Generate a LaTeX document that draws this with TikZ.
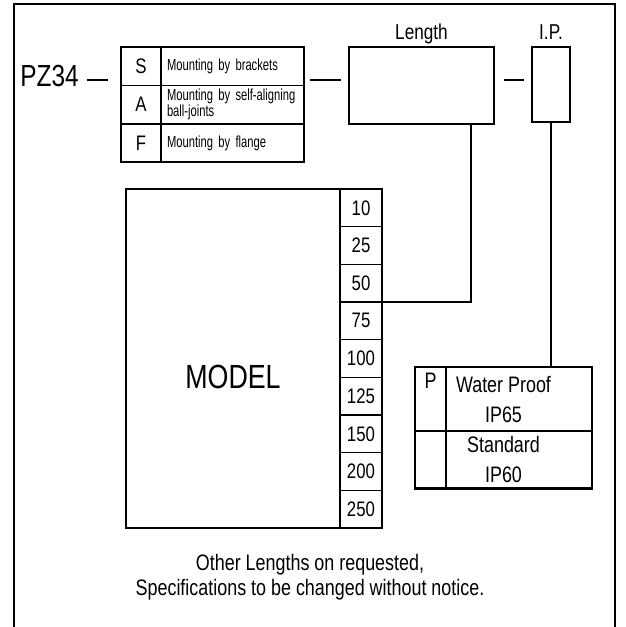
\documentclass[tikz,border=0pt]{standalone}
\usepackage{fontspec}
\setmainfont{Liberation Sans}[FakeStretch=0.8]
\newfontfamily\narrowfont{Liberation Sans}[FakeStretch=0.7]
\DeclareRobustCommand\descfont{\narrowfont\fontsize{16}{14}\selectfont
  \setlength\spaceskip{0.2em plus 0.1em}}
\usetikzlibrary{positioning}

\begin{document}
\begin{tikzpicture}[x=1pt, y=-1pt,
  fs/.style={font=\fontsize{#1}{#1}\selectfont},
  frame/.style={line width=2.8pt},
  box/.style={draw, line width=2.3pt, inner sep=0pt, outer sep=0pt},
  cell/.style={draw, line width=1.5pt, inner sep=0pt, outer sep=0pt, align=center},
  desc/.style={cell, font=\descfont, minimum width=142pt, minimum height=38.4pt,
    text width=131pt, inner xsep=6pt, align=left},
  letter/.style={cell, fs=21, minimum width=40pt, minimum height=38.4pt},
  numcell/.style={cell, fs=21, minimum width=42pt, minimum height=37.67pt},
  prow/.style={cell, font=\fontsize{22.4}{30}\selectfont, minimum width=177pt},
  lbl/.style={fs=21.5, inner sep=0pt},
  link/.style={line width=2.2pt}
]
\useasboundingbox (0,0) rectangle (625,627);
\draw[frame] (14,627) -- (14,4) -- (615,4) -- (615,627);
\coordinate (lvl) at (0,80);

\node[fs=30.5, inner sep=0pt, anchor=base] (pz) at (49.5,86) {PZ34};

\node[letter] (s) at (141,66.2) {S};
\node[letter, below=0pt of s] (a) {A};
\node[letter, below=0pt of a] (f) {F};
\node[desc, right=0pt of s] (ds) {Mounting by brackets};
\node[desc, right=0pt of a] (da) {Mounting by self-aligning\\ball-joints};
\node[desc, right=0pt of f] (df) {Mounting by flange};
\draw[box] (s.north west) rectangle (df.south east);

\node[box, minimum width=145pt, minimum height=77pt] (len) at (421.5,85.5) {};
\node[box, minimum width=38pt, minimum height=75pt] (ip) at (551,84.5) {};
\node[lbl, above=7.7pt of len, anchor=base] (lenlbl) {Length};
\node[lbl, above=7.7pt of ip, anchor=base] (iplbl) {I.P.};

\draw[link, shorten <=8pt, shorten >=13pt] (pz.east |- lvl) -- (s.west |- lvl);
\draw[link, shorten <=6pt, shorten >=8pt] (ds.east |- lvl) -- (len.west |- lvl);
\draw[link, shorten <=10pt, shorten >=8pt] (len.east |- lvl) -- (ip.west |- lvl);

\node[box, minimum width=214pt, minimum height=339pt] (model) at (233,358.5) {};
\node[fs=33.5, inner sep=0pt] (mtxt) at ([yshift=-18.5pt]model.center) {MODEL};
\foreach \v [count=\i] in {10,25,50,75,100,125,150,200,250}
  \node[numcell] (n\v) at (361,{189+37.67*(\i-0.5)}) {\v};
\draw[box] (model.north west) rectangle (n250.south east);
\draw[link] ([xshift=49.5pt]len.south) |- (n50.south east);

\node[prow, minimum height=64pt] (wp) at (503.5,399) {Water Proof\\IP65};
\node[prow, minimum height=57.5pt, below=0pt of wp] (std) {Standard\\IP60};
\draw[box] (wp.north west) rectangle (std.south east);
\draw[box] ([xshift=31pt]wp.north west) -- ([xshift=31pt]std.south west);
\node[fs=22.4, inner sep=0pt, anchor=base] (p) at (430.5,388.3) {P};
\draw[link] (ip.south) -- (ip.south |- wp.north);

\node[font=\fontsize{22.4}{25}\selectfont, align=center, inner sep=0pt] (note) at (310,577)
  {Other Lengths on requested,\\Specifications to be changed without notice.};
\end{tikzpicture}
\end{document}
